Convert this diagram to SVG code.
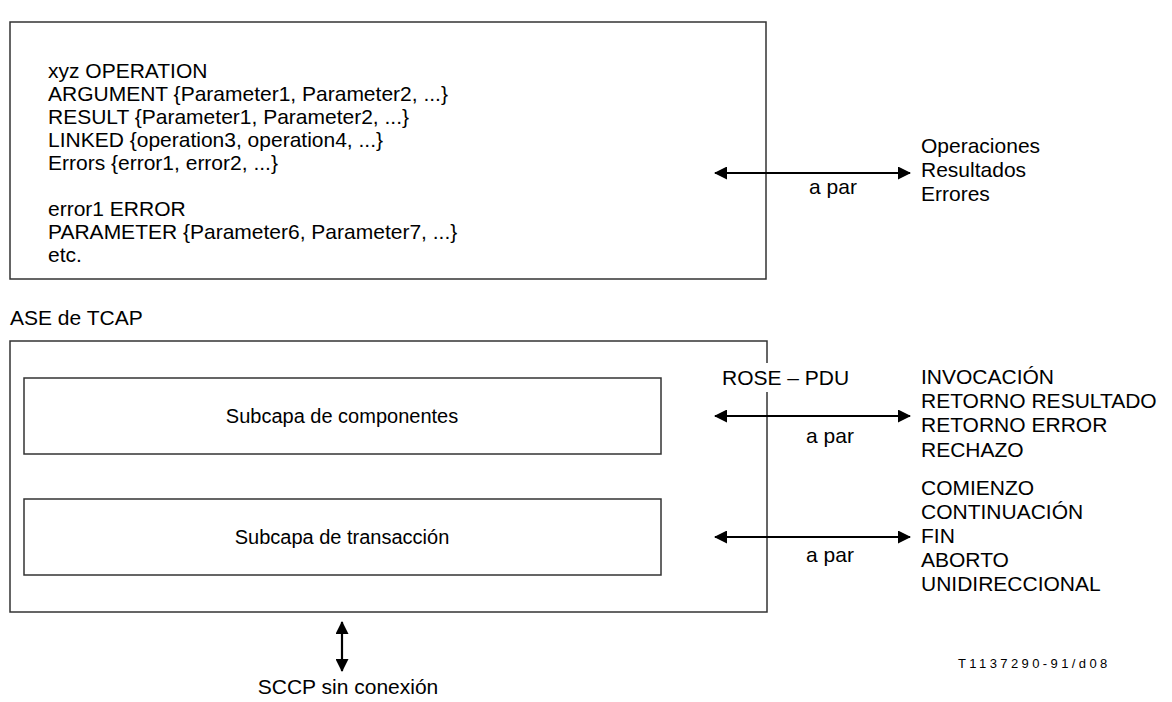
<svg xmlns="http://www.w3.org/2000/svg" width="1172" height="702" viewBox="0 0 1172 702">
  <defs>
    <marker id="arrow" viewBox="0 0 13 13" refX="12" refY="6.5" markerWidth="13" markerHeight="13" markerUnits="userSpaceOnUse" orient="auto-start-reverse">
      <path d="M0,0 L13,6.5 L0,13 z" fill="#000"/>
    </marker>
    <style>
      text { font-family: "Liberation Sans", Arial, sans-serif; font-size: 21px; fill: #000; }
      .box { fill: #fff; stroke: #333; stroke-width: 1.5; }
      .link { stroke: #000; stroke-width: 2.2; fill: none; marker-start: url(#arrow); marker-end: url(#arrow); }
      .mid { text-anchor: middle; }
      .layer { font-size: 20px; text-anchor: middle; }
      .small { font-size: 13px; letter-spacing: 3.4px; }
    </style>
  </defs>
  <rect width="1172" height="702" fill="#fff"/>

  <!-- ASN.1 style operation / error definitions -->
  <g id="definitions">
    <rect class="box" x="10" y="22" width="756" height="257"/>
    <text x="48" y="78">xyz OPERATION</text>
    <text x="48" y="101">ARGUMENT {Parameter1, Parameter2, ...}</text>
    <text x="48" y="124">RESULT {Parameter1, Parameter2, ...}</text>
    <text x="48" y="147">LINKED {operation3, operation4, ...}</text>
    <text x="48" y="170">Errors {error1, error2, ...}</text>
    <text x="48" y="216">error1 ERROR</text>
    <text x="48" y="239">PARAMETER {Parameter6, Parameter7, ...}</text>
    <text x="48" y="262">etc.</text>
  </g>

  <!-- TCAP application service element -->
  <g id="tcap-ase">
    <text x="10" y="325">ASE de TCAP</text>
    <rect class="box" x="10" y="341" width="757" height="271"/>
  </g>

  <g id="component-sublayer">
    <rect class="box" x="24" y="378" width="637" height="76"/>
    <text class="layer" x="342" y="423">Subcapa de componentes</text>
  </g>

  <g id="transaction-sublayer">
    <rect class="box" x="24" y="499" width="637" height="76"/>
    <text class="layer" x="342" y="544">Subcapa de transacción</text>
  </g>

  <!-- peer-to-peer exchanges and service interface -->
  <g id="connectors">
    <line class="link" x1="715" y1="173" x2="910" y2="173"/>
    <line class="link" x1="715" y1="416" x2="910" y2="416"/>
    <line class="link" x1="715" y1="537" x2="910" y2="537"/>
    <line class="link" x1="342" y1="622" x2="342" y2="671"/>
  </g>

  <g id="labels">
    <text class="mid" x="833" y="194">a par</text>
    <rect x="718" y="363" width="138" height="29" fill="#fff"/>
    <text x="722" y="385">ROSE – PDU</text>
    <text class="mid" x="830" y="443">a par</text>
    <text class="mid" x="830" y="562">a par</text>
  </g>

  <g id="peer-messages">
    <text x="921" y="153">Operaciones</text>
    <text x="921" y="177">Resultados</text>
    <text x="921" y="201">Errores</text>
  </g>

  <g id="rose-pdus">
    <text x="921" y="384">INVOCACIÓN</text>
    <text x="921" y="408">RETORNO RESULTADO</text>
    <text x="921" y="432">RETORNO ERROR</text>
    <text x="921" y="457">RECHAZO</text>
  </g>

  <g id="transaction-pdus">
    <text x="921" y="495">COMIENZO</text>
    <text x="921" y="519">CONTINUACIÓN</text>
    <text x="921" y="543">FIN</text>
    <text x="921" y="567">ABORTO</text>
    <text x="921" y="591">UNIDIRECCIONAL</text>
  </g>

  <g id="sccp">
    <text class="mid" x="348" y="694">SCCP sin conexión</text>
  </g>

  <text class="small" x="958" y="668">T1137290-91/d08</text>
</svg>
